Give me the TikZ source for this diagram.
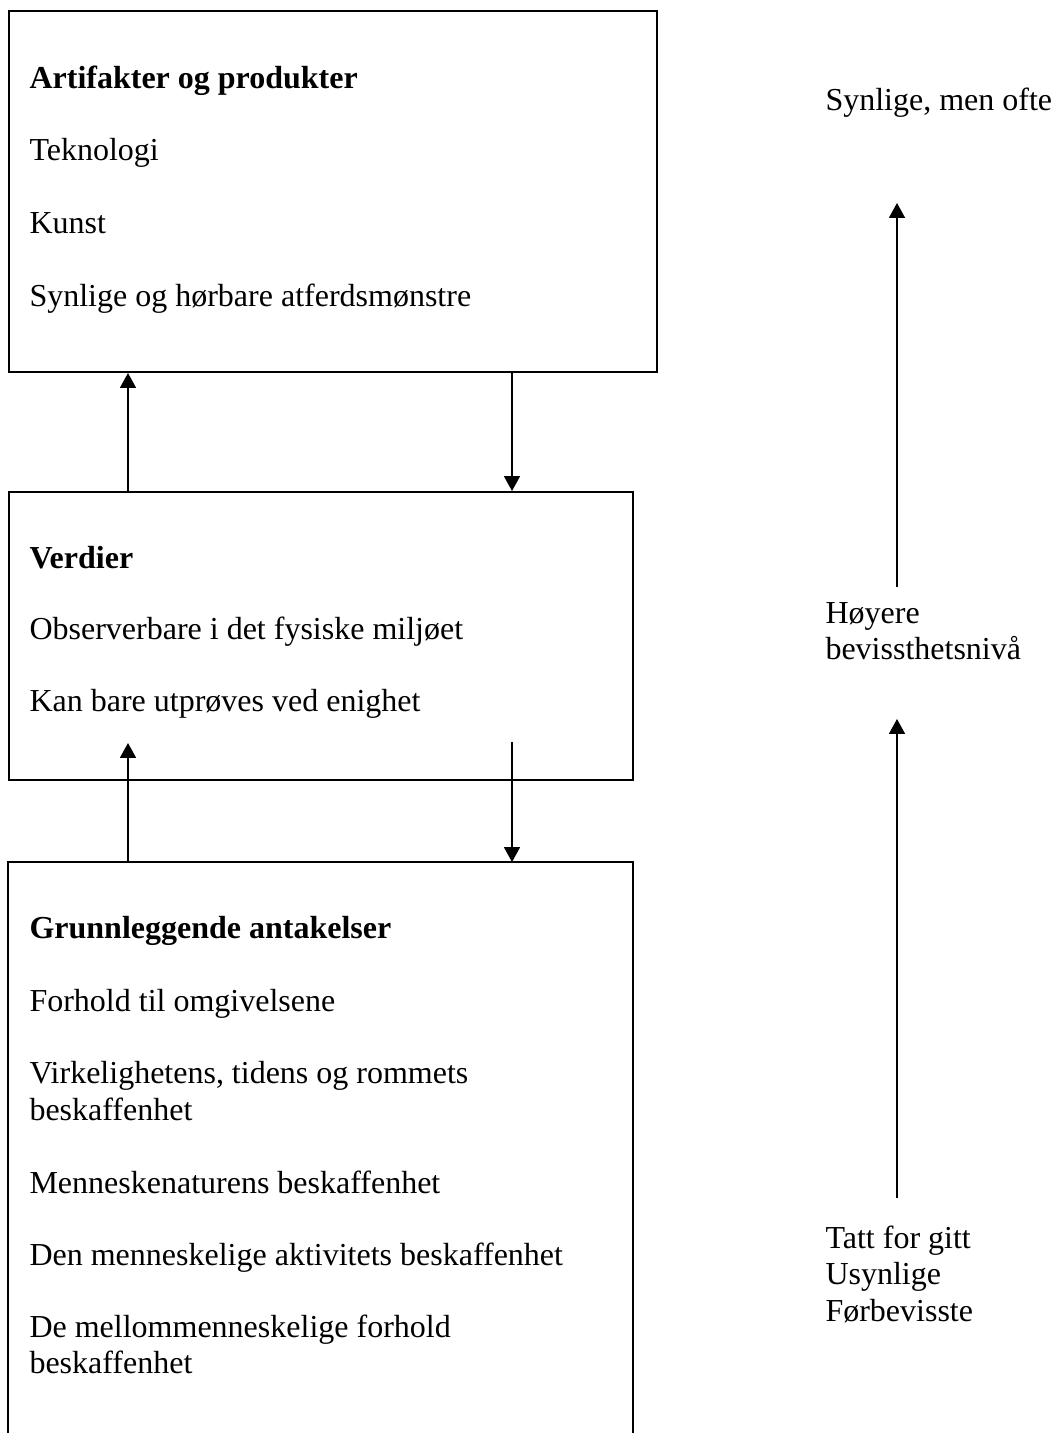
\documentclass[tikz,border=0pt]{standalone}
\usepackage{fontspec}
\setmainfont{Liberation Serif}
\usetikzlibrary{arrows.meta}
\begin{document}
\begin{tikzpicture}[x=0.375pt,y=-0.375pt,
  frame/.style={draw=black,line width=0.75pt,inner sep=0pt,anchor=north west},
  txt/.style={anchor=base west,inner sep=0pt,font=\fontsize{12}{13.875}\selectfont},
  head/.style={txt,font=\fontsize{12}{13.875}\selectfont\bfseries},
  arr/.style={draw=black,line width=0.6pt,-{Triangle[width=6pt,length=5.6pt]}}]
\useasboundingbox (0,0) rectangle (1056,1433);
% boxes
\node[frame,minimum width=243pt,minimum height=135.375pt] (b1) at (8,10) {};
\node[frame,minimum width=234pt,minimum height=108pt] (b2) at (8,491) {};
\node[inner sep=0pt,anchor=north west,minimum width=234pt,minimum height=220pt] (b3) at (8,862) {};
\draw[line width=0.75pt] (b3.south west) -- (b3.north west) -- (b3.north east) -- (b3.south east);
% box 1 text
\node[head] (t11) at (29,88) {Artifakter og produkter};
\node[txt] (t12) at (29,160) {Teknologi};
\node[txt] (t13) at (29,233) {Kunst};
\node[txt] (t14) at (29,306) {Synlige og hørbare atferdsmønstre};
% box 2 text
\node[head] (t21) at (29,568) {Verdier};
\node[txt] (t22) at (29,639) {Observerbare i det fysiske miljøet};
\node[txt] (t23) at (29,711) {Kan bare utprøves ved enighet};
% box 3 text
\node[head] (t31) at (29,938) {Grunnleggende antakelser};
\node[txt] (t32) at (29,1011) {Forhold til omgivelsene};
\node[txt] (t33) at (29,1083) {Virkelighetens, tidens og rommets};
\node[txt] (t34) at (29,1120) {beskaffenhet};
\node[txt] (t35) at (29,1193) {Menneskenaturens beskaffenhet};
\node[txt] (t36) at (29,1265) {Den menneskelige aktivitets beskaffenhet};
\node[txt] (t37) at (29,1337) {De mellommenneskelige forhold};
\node[txt] (t38) at (29,1373) {beskaffenhet};
% right column text
\node[txt] (r1) at (825,110) {Synlige, men ofte};
\node[txt] (r2) at (825,623) {Høyere};
\node[txt] (r3) at (825,659) {bevissthetsnivå};
\node[txt] (r4) at (825,1248) {Tatt for gitt};
\node[txt] (r5) at (825,1284) {Usynlige};
\node[txt] (r6) at (825,1321) {Førbevisste};
% coordinates
\coordinate (lx) at (128,0);
\coordinate (rx) at (512,0);
\coordinate (up2tip) at (128,743);
\coordinate (dn2start) at (512,742);
\coordinate (a1start) at (897,587);
\coordinate (a1tip) at (897,203);
\coordinate (a2start) at (897,1198);
\coordinate (a2tip) at (897,719);
% connectors
\draw[arr] (b2.north -| lx) -- (b1.south -| lx);
\draw[arr] (b1.south -| rx) -- (b2.north -| rx);
\draw[arr] (b3.north -| lx) -- (up2tip);
\draw[arr] (dn2start) -- (b3.north -| rx);
\draw[arr] (a1start) -- (a1tip);
\draw[arr] (a2start) -- (a2tip);
\end{tikzpicture}
\end{document}
